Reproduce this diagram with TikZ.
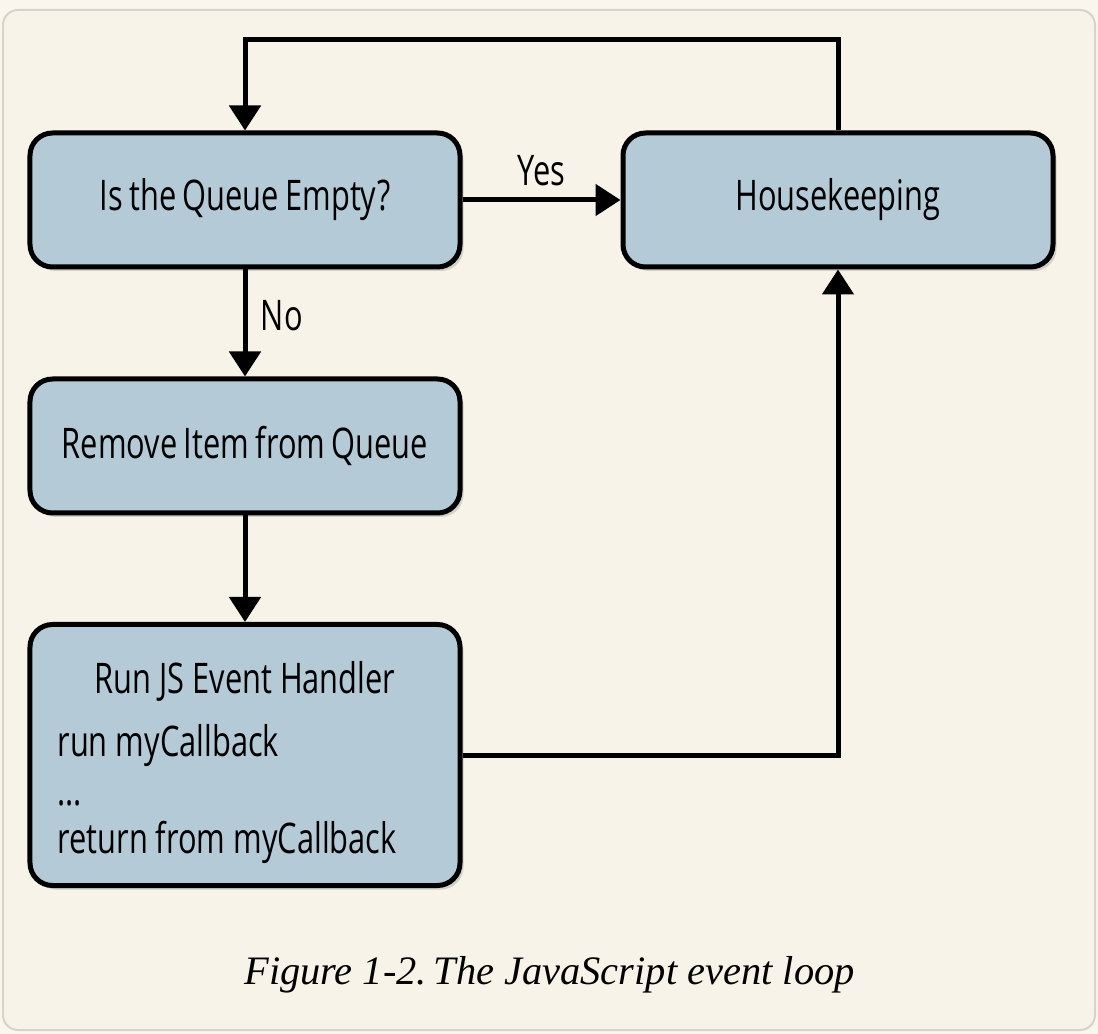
\documentclass[tikz,border=0pt]{standalone}
\usepackage{fontspec}
\setmainfont[FakeStretch=0.73, WordSpace=0.8]{Open Sans}
\newfontfamily\capfont{Liberation Serif}
\usetikzlibrary{arrows.meta,shadows,positioning}
\definecolor{boxblue}{HTML}{B4CAD6}
\definecolor{paper}{HTML}{F7F3E8}
\definecolor{paperlight}{HTML}{F9F6EE}
\definecolor{rim}{HTML}{D8D4CA}

\begin{document}
\begin{tikzpicture}[>={Triangle[length=0.5cm,width=0.62cm]},
  font=\fontsize{24}{27.5}\selectfont,
  stepbox/.style={rectangle, rounded corners=0.45cm, draw, line width=0.1cm,
    fill=boxblue, minimum width=8.6cm, minimum height=2.68cm,
    drop shadow={shadow xshift=0.07cm, shadow yshift=-0.08cm, opacity=0.3}},
  flow/.style={line width=0.1cm, ->}]

\useasboundingbox (0,0) rectangle (21.96,-20.68);
\fill[paperlight] (0,0) rectangle (21.96,-20.68);
\draw[rim, fill=paper, rounded corners=0.3cm, line width=0.04cm]
    (0.06,-0.2) rectangle (21.9,-20.6);

 \node[stepbox] (empty) at (4.9,-4.0) {Is the Queue Empty?};

 \node[stepbox] (house) at (16.76,-4.0) {Housekeeping};

 \node[stepbox] (remove) at (4.9,-8.92) {Remove Item from Queue};

 \node[stepbox, minimum height=5.22cm, text width=7.5cm, inner xsep=0.55cm,
    align=left] (run) at (4.9,-15.1)
    {\spaceskip=0.19em\rule{0pt}{0.94cm}\makebox[\linewidth]{Run JS Event Handler}\\[0.3cm]
     run myCallback\\ ...\\ return from myCallback};

\draw [flow] (empty) -- (house) node[midway, above=0.12cm] {Yes};
\draw [flow] (empty) -- (remove) node[pos=0.43, right=0.15cm] {No};
\draw [flow] (remove) -- (run);
\draw [flow] (run.east) -| (house.south);
\draw [flow] (house.north) -- ++(0,1.81) -| (empty.north);

 \node (caption) at (10.99,-19.5)
    {\capfont\itshape\fontsize{23}{28}\selectfont Figure 1-2.\,The JavaScript event loop};

\end{tikzpicture}
\end{document}
